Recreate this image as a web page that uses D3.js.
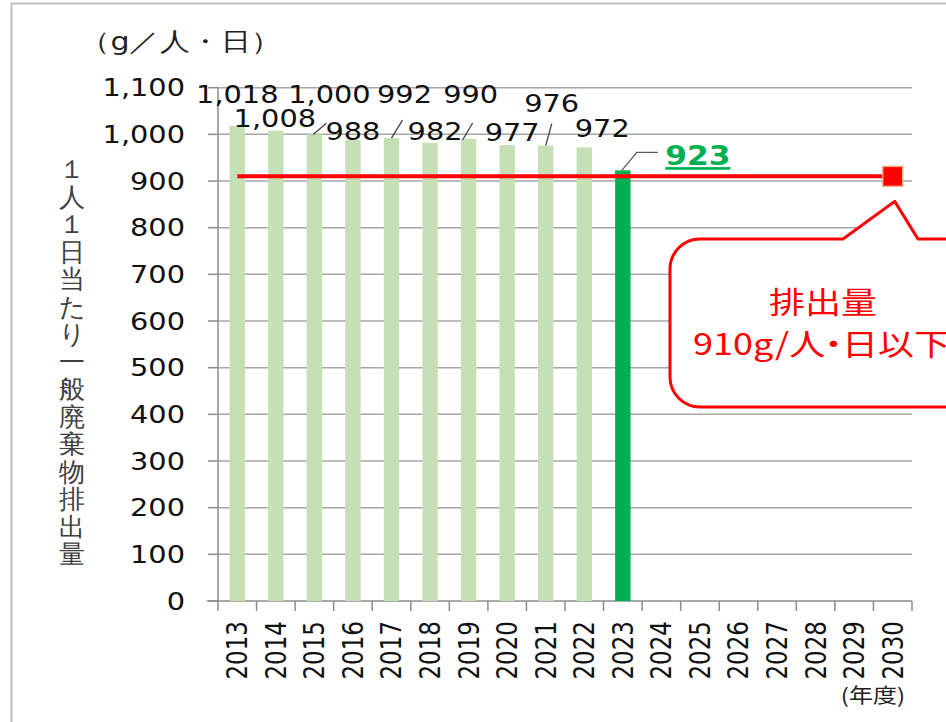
<!DOCTYPE html>
<html>
<head>
    <meta charset="utf-8">
    <title>1人1日当たり一般廃棄物排出量</title>
    <script src="https://d3js.org/d3.v7.min.js"></script>
    <style>
        body { margin: 0; background: #fff; }
        text { font-family: "DejaVu Sans", Verdana, sans-serif; }
        .jp { font-family: "Noto Sans CJK JP", sans-serif; }
    </style>
</head>
<body>
    <script>
        // data
        var years = ["2013", "2014", "2015", "2016", "2017", "2018", "2019", "2020", "2021",
                     "2022", "2023", "2024", "2025", "2026", "2027", "2028", "2029", "2030"];
        var values = [1018, 1008, 1000, 988, 992, 982, 990, 977, 976, 972, 923];
        var valueLabels = ["1,018", "1,008", "1,000", "988", "992", "982", "990", "977", "976", "972", "923"];
        var target = 910;
        var targetYear = "2030";
        var yTicks = [0, 100, 200, 300, 400, 500, 600, 700, 800, 900, 1000, 1100];

        // layout only: where each data label sits relative to the top of its bar
        var labelOffsets = [[0, -23], [-1, -4], [15, -31], [0, 0], [13, -35], [5, -3],
                            [2, -36], [5, -4], [6, -34], [18, -10], [75, -5]];
        // leader lines: bar index -> points relative to the bar top
        var leaders = [[2, [[-1, 0], [12, -11]]], [4, [[0, 0], [11, -18]]], [6, [[-6, 1], [4, -16]]],
                       [8, [[0, 0], [6, -22]]], [10, [[-1, 0], [14, -18], [35, -18]]]];

        var width = 946, height = 722, sx = 1.2;

        var svg = d3.select("body").append("svg")
            .attr("width", width)
            .attr("height", height);

        // text with the slight horizontal stretch of the original
        function txt(x, y, s, rot) {
            var t = svg.append("text")
                .attr("transform", "translate(" + x + "," + y + ") scale(" + sx + ",1)" + (rot ? " rotate(" + rot + ")" : ""))
                .text(s);
            return t;
        }

        // outer frame
        svg.append("path")
            .attr("d", "M11.5," + height + "V3.5H" + width)
            .attr("fill", "none")
            .attr("stroke", "#bfbfbf")
            .attr("stroke-width", 2);

        var x = d3.scaleBand()
            .domain(years)
            .range([218, 912])
            .paddingInner(0.6)
            .paddingOuter(0.3);
        var step = x.step();
        var cx = function(d) { return x(d) + x.bandwidth() / 2; };

        var y = d3.scaleLinear()
            .domain([0, 1100])
            .range([601, 87.7]);

        // gridlines
        svg.selectAll("line.grid")
            .data(yTicks.slice(1))
            .enter()
            .append("line")
            .attr("class", "grid")
            .attr("x1", 218).attr("x2", 912)
            .attr("y1", function(d) { return y(d); })
            .attr("y2", function(d) { return y(d); })
            .attr("stroke", "#a6a6a6")
            .attr("stroke-width", 1.5);

        // y axis
        svg.append("line")
            .attr("x1", 218).attr("x2", 218)
            .attr("y1", y(0)).attr("y2", y(1100))
            .attr("stroke", "#8c8c8c").attr("stroke-width", 1.5);
        svg.selectAll("line.ytick")
            .data(yTicks)
            .enter()
            .append("line")
            .attr("class", "ytick")
            .attr("x1", 208).attr("x2", 218)
            .attr("y1", function(d) { return y(d); })
            .attr("y2", function(d) { return y(d); })
            .attr("stroke", "#8c8c8c").attr("stroke-width", 1.5);
        yTicks.forEach(function(d) {
            txt(185, y(d), d3.format(",")(d))
                .attr("dy", "0.36em")
                .attr("text-anchor", "end")
                .attr("font-size", 24)
                .attr("fill", "#111");
        });

        // x axis
        svg.append("line")
            .attr("x1", 207).attr("x2", 912)
            .attr("y1", y(0)).attr("y2", y(0))
            .attr("stroke", "#8c8c8c").attr("stroke-width", 1.5);
        svg.selectAll("line.xtick")
            .data(d3.range(years.length + 1))
            .enter()
            .append("line")
            .attr("class", "xtick")
            .attr("x1", function(i) { return 218 + i * step; })
            .attr("x2", function(i) { return 218 + i * step; })
            .attr("y1", y(0)).attr("y2", y(0) + 10)
            .attr("stroke", "#8c8c8c").attr("stroke-width", 1.5);
        years.forEach(function(d) {
            txt(cx(d), 621, d, -90)
                .attr("dy", "0.36em")
                .attr("text-anchor", "end")
                .attr("font-size", 23)
                .attr("fill", "#111");
        });
        txt(905, 703, "(年度)")
            .attr("class", "jp")
            .attr("text-anchor", "end")
            .attr("font-size", 20)
            .attr("fill", "#222");

        // bars
        svg.selectAll("rect.bar")
            .data(values)
            .enter()
            .append("rect")
            .attr("class", "bar")
            .attr("x", function(d, i) { return x(years[i]); })
            .attr("width", x.bandwidth())
            .attr("y", function(d) { return y(d); })
            .attr("height", function(d) { return y(0) - y(d); })
            .attr("fill", function(d, i) { return i === values.length - 1 ? "#00b050" : "#c5e0b4"; });

        // target line and marker
        svg.append("line")
            .attr("x1", cx(years[0])).attr("x2", cx(targetYear))
            .attr("y1", y(target)).attr("y2", y(target))
            .attr("stroke", "#ff0000").attr("stroke-width", 4);
        svg.append("rect")
            .attr("x", cx(targetYear) - 10).attr("y", y(target) - 10)
            .attr("width", 20).attr("height", 20)
            .attr("fill", "#ff0000")
            .attr("stroke", "#f4b183").attr("stroke-width", 1.5);

        // leader lines
        leaders.forEach(function(l) {
            var i = l[0];
            var bx = cx(years[i]), by = y(values[i]);
            svg.append("polyline")
                .attr("points", l[1].map(function(p) { return (bx + p[0]) + "," + (by + p[1]); }).join(" "))
                .attr("fill", "none")
                .attr("stroke", i === 10 ? "#595959" : "#404040")
                .attr("stroke-width", 1.3);
        });

        // data labels
        values.forEach(function(v, i) {
            var last = i === values.length - 1;
            var t = txt(cx(years[i]) + labelOffsets[i][0], y(v) + labelOffsets[i][1], valueLabels[i])
                .attr("text-anchor", "middle")
                .attr("font-size", last ? 26 : 24)
                .attr("font-weight", last ? "bold" : "normal")
                .attr("fill", last ? "#00b050" : "#111");
            if (last) t.attr("text-decoration", "underline");
        });

        // callout
        var mx = cx(targetYear), my = y(target);
        svg.append("path")
            .attr("d", "M700,239H843L" + (mx + 2) + "," + (my + 25) + "L918,239H990V407H700"
                + "A30,30 0 0 1 670,377V269A30,30 0 0 1 700,239Z")
            .attr("fill", "#fff")
            .attr("stroke", "#ff0000")
            .attr("stroke-width", 3)
            .attr("stroke-linejoin", "round");
        txt(823, 313, "排出量")
            .attr("class", "jp")
            .attr("text-anchor", "middle")
            .attr("font-size", 30)
            .attr("fill", "#ff0000");
        var line2 = txt(693, 355, "")
            .attr("class", "jp")
            .attr("font-size", 30)
            .attr("fill", "#ff0000");
        line2.append("tspan").text("910g/人");
        line2.append("tspan").attr("dx", -8).text("・");
        line2.append("tspan").attr("dx", -8).text("日以下");

        // unit and y title
        txt(80, 50, "（g／人・日）")
            .attr("font-family", "'Liberation Serif', 'Noto Sans CJK JP', serif")
            .attr("font-size", 25)
            .attr("fill", "#222");

        var title = "１人１日当たり一般廃棄物排出量";
        var tg = svg.append("g")
            .attr("class", "jp")
            .attr("font-size", 26)
            .attr("fill", "#404040")
            .attr("text-anchor", "middle");
        title.split("").forEach(function(c, i) {
            tg.append("text")
                .attr("x", 72)
                .attr("y", 178 + i * 27.5)
                .text(c);
        });
    </script>
</body>
</html>
